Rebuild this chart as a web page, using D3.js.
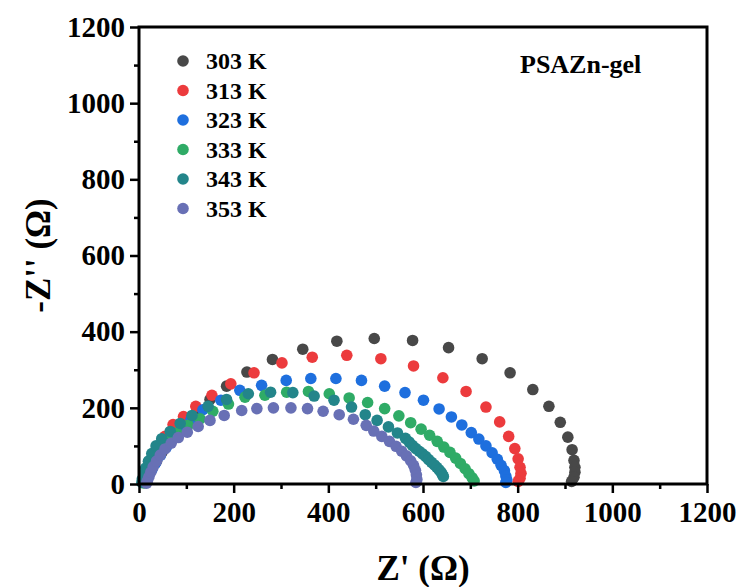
<!DOCTYPE html>
<html>
<head>
<meta charset="utf-8">
<script src="https://cdn.jsdelivr.net/npm/d3@7"></script>
<style>
  body { margin: 0; background: #ffffff; }
  text { font-family: "Liberation Serif", "Times New Roman", serif; font-weight: bold; fill: #000; }
</style>
</head>
<body>
<svg id="chart" width="741" height="587"></svg>
<script>
// Nyquist plots of the PSAZn-gel electrolyte at six temperatures: [Z' (Ω), -Z'' (Ω)]
const temperatures = ["303 K", "313 K", "323 K", "333 K", "343 K", "353 K"];
const seriesColors = ["#484848", "#ec3b3d", "#1e6fde", "#2fab66", "#23858a", "#6870b5"];

const nyquist303 = [[13,4],[16,13],[21,26],[28,42],[37,60],[48,82],[62,106],[78,132],[98,160],[122,190],[150,222],[185,257],[228,294],[282,327],[346,354],[418,375],[497,382],[578,377],[654,358],[725,329],[784,292],[832,248],[866,204],[890,162],[906,123],[915,90],[919,62],[921,44],[921,31],[919,18],[914,7]];
const nyquist313 = [[9,4],[11,12],[14,23],[18,37],[24,54],[32,74],[42,98],[55,125],[72,156],[94,177],[120,204],[154,233],[194,263],[243,292],[302,318],[366,333],[439,338],[511,329],[580,310],[642,279],[691,243],[733,202],[762,163],[781,125],[794,93],[801,66],[805,44],[807,28],[805,15],[801,7]];
const nyquist323 = [[12,4],[15,12],[20,24],[27,38],[35,55],[45,75],[58,97],[72,120],[90,145],[110,170],[135,195],[173,220],[213,246],[259,259],[311,272],[363,277],[416,277],[470,272],[519,257],[562,240],[601,220],[634,197],[660,176],[682,155],[702,135],[718,118],[733,100],[746,82],[757,65],[765,49],[772,35],[775,21],[777,11],[775,4]];
const nyquist333 = [[10,3],[12,10],[16,21],[21,35],[28,51],[37,70],[48,90],[62,112],[80,134],[104,154],[129,171],[156,191],[189,210],[224,228],[266,233],[312,241],[358,243],[402,237],[444,226],[483,214],[519,198],[549,179],[574,161],[596,144],[614,128],[630,112],[644,97],[657,83],[669,68],[679,54],[689,40],[697,27],[704,16],[708,8]];
const nyquist343 = [[6,4],[7,13],[10,26],[14,42],[20,60],[27,80],[36,100],[48,119],[66,138],[87,159],[112,180],[146,204],[185,222],[231,237],[278,241],[325,240],[370,231],[412,220],[449,202],[478,182],[503,167],[527,150],[546,134],[563,120],[571,110],[578,101],[585,93],[592,86],[599,79],[606,72],[612,64],[618,57],[624,50],[629,44],[634,37],[638,31],[641,25],[643,20]];
const nyquist353 = [[16,2],[18,9],[21,19],[25,31],[30,45],[37,60],[45,76],[55,92],[68,107],[83,122],[102,136],[125,151],[150,167],[180,180],[217,193],[249,198],[284,200],[321,200],[356,198],[389,191],[423,182],[453,170],[480,154],[496,139],[513,125],[529,112],[543,99],[555,86],[565,74],[574,61],[580,49],[584,36],[586,24],[587,12],[585,4]];

const allSeries = [nyquist303, nyquist313, nyquist323, nyquist333, nyquist343, nyquist353];

const majorTicks = [0, 200, 400, 600, 800, 1000, 1200];
const minorTicks = [100, 300, 500, 700, 900, 1100];
const xTitle = "Z' (Ω)";
const yTitle = "-Z'' (Ω)";
const sampleName = "PSAZn-gel";

const svg = d3.select("#chart");
const plot = { left: 139, right: 707, top: 27, bottom: 484 };
const markerRadius = 5.8;

const x = d3.scaleLinear().domain([0, 1200]).range([plot.left, plot.right]);
const y = d3.scaleLinear().domain([0, 1200]).range([plot.bottom, plot.top]);

// data markers, lowest temperature drawn first
allSeries.forEach((pts, i) => {
  svg.append("g")
    .selectAll("circle")
    .data(pts)
    .join("circle")
    .attr("cx", d => x(d[0]))
    .attr("cy", d => y(d[1]))
    .attr("r", markerRadius)
    .attr("fill", seriesColors[i]);
});

// axes (outward ticks on bottom and left only)
const xAxis = d3.axisBottom(x).tickValues(majorTicks).tickSize(9).tickPadding(8).tickFormat(d3.format("d"));
const yAxis = d3.axisLeft(y).tickValues(majorTicks).tickSize(9).tickPadding(5).tickFormat(d3.format("d"));

const gx = svg.append("g").attr("transform", `translate(0,${plot.bottom})`).call(xAxis);
const gy = svg.append("g").attr("transform", `translate(${plot.left},0)`).call(yAxis);
[gx, gy].forEach(g => {
  g.select(".domain").remove();
  g.selectAll(".tick line").attr("stroke", "#000").attr("stroke-width", 2.5);
  g.selectAll(".tick text").attr("font-size", 29).attr("font-family", "Liberation Serif, serif").attr("font-weight", "bold").attr("fill", "#000");
});

const gxm = svg.append("g").attr("transform", `translate(0,${plot.bottom})`)
  .call(d3.axisBottom(x).tickValues(minorTicks).tickSize(5).tickFormat(""));
const gym = svg.append("g").attr("transform", `translate(${plot.left},0)`)
  .call(d3.axisLeft(y).tickValues(minorTicks).tickSize(5).tickFormat(""));
[gxm, gym].forEach(g => {
  g.select(".domain").remove();
  g.selectAll(".tick line").attr("stroke", "#000").attr("stroke-width", 2.5);
});

// frame
svg.append("rect")
  .attr("x", plot.left).attr("y", plot.top)
  .attr("width", plot.right - plot.left).attr("height", plot.bottom - plot.top)
  .attr("fill", "none").attr("stroke", "#000").attr("stroke-width", 3);

// axis titles
svg.append("text")
  .attr("x", (plot.left + plot.right) / 2).attr("y", 580)
  .attr("text-anchor", "middle").attr("font-size", 35)
  .text(xTitle);

svg.append("text")
  .attr("transform", `translate(50,${(plot.top + plot.bottom) / 2}) rotate(-90)`)
  .attr("text-anchor", "middle").attr("font-size", 35)
  .text(yTitle);

// legend
const legend = svg.append("g");
temperatures.forEach((t, i) => {
  const ly = 61 + i * 29.5;
  legend.append("circle").attr("cx", 183).attr("cy", ly).attr("r", markerRadius).attr("fill", seriesColors[i]);
  legend.append("text").attr("x", 206).attr("y", ly).attr("dy", "0.35em")
    .attr("font-size", 24).text(t);
});

// sample label
svg.append("text").attr("x", 520).attr("y", 73).attr("font-size", 26).text(sampleName);
</script>
</body>
</html>
